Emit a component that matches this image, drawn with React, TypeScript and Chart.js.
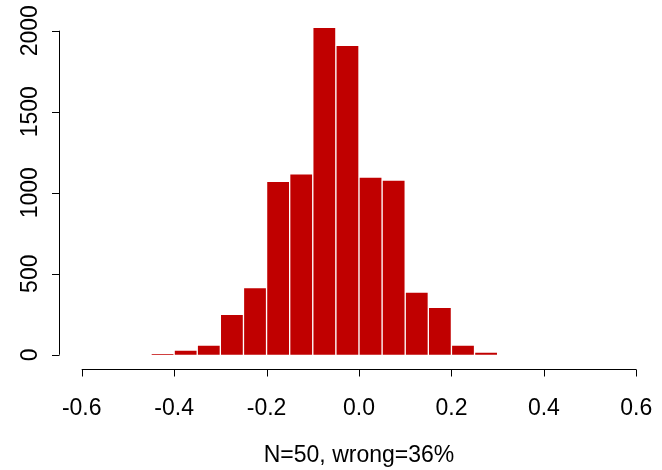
import React, { useEffect, useRef } from "react";
import { Chart, registerables } from "chart.js";

Chart.register(...registerables);

// Histogram bins (left edges) and counts
const binStarts = [-0.45, -0.4, -0.35, -0.3, -0.25, -0.2, -0.15, -0.1, -0.05, 0.0, 0.05, 0.1, 0.15, 0.2, 0.25];
const binWidth = 0.05;
const counts = [4, 29, 60, 250, 415, 1070, 1117, 2021, 1910, 1096, 1078, 386, 292, 60, 17];

const xTicks = [-0.6, -0.4, -0.2, 0.0, 0.2, 0.4, 0.6];
const xTickLabels = ["-0.6", "-0.4", "-0.2", "0.0", "0.2", "0.4", "0.6"];
const yTicks = [0, 500, 1000, 1500, 2000];
const yTickLabels = ["0", "500", "1000", "1500", "2000"];
const xTitle = "N=50, wrong=36%";

const FONT = '23px "Liberation Sans", Arial, Helvetica, sans-serif';

const rAxesPlugin = {
  id: "rAxes",
  afterDraw(chart: any) {
    const ctx = chart.ctx;
    const xs = chart.scales.x;
    const ys = chart.scales.y;
    const area = chart.chartArea;
    ctx.save();
    ctx.strokeStyle = "#000";
    ctx.fillStyle = "#000";
    ctx.lineWidth = 1;

    // x axis
    const axY = Math.round(area.bottom) + 0.5;
    const x0 = xs.getPixelForValue(xTicks[0]);
    const x1 = xs.getPixelForValue(xTicks[xTicks.length - 1]);
    ctx.beginPath();
    ctx.moveTo(x0, axY);
    ctx.lineTo(x1, axY);
    xTicks.forEach((v) => {
      const px = Math.round(xs.getPixelForValue(v)) + 0.5;
      ctx.moveTo(px, axY);
      ctx.lineTo(px, axY + 7);
    });
    ctx.stroke();

    ctx.font = FONT;
    ctx.textAlign = "center";
    ctx.textBaseline = "alphabetic";
    xTicks.forEach((v, i) => {
      ctx.fillText(xTickLabels[i], xs.getPixelForValue(v), axY + 45.5);
    });
    ctx.fillText(xTitle, (area.left + area.right) / 2, axY + 92.5);

    // y axis
    const axX = Math.round(area.left) + 0.5;
    const y0 = ys.getPixelForValue(yTicks[0]);
    const y1 = ys.getPixelForValue(yTicks[yTicks.length - 1]);
    ctx.beginPath();
    ctx.moveTo(axX, y0);
    ctx.lineTo(axX, y1);
    yTicks.forEach((v) => {
      const py = Math.round(ys.getPixelForValue(v)) + 0.5;
      ctx.moveTo(axX, py);
      ctx.lineTo(axX - 7.5, py);
    });
    ctx.stroke();

    yTicks.forEach((v, i) => {
      ctx.save();
      ctx.translate(axX - 22.5, ys.getPixelForValue(v));
      ctx.rotate(-Math.PI / 2);
      ctx.fillText(yTickLabels[i], 0, 0);
      ctx.restore();
    });
    ctx.restore();
  },
};

export default function App() {
  const ref = useRef<HTMLCanvasElement | null>(null);
  useEffect(() => {
    if (!ref.current) return;
    const chart = new Chart(ref.current, {
      type: "bar",
      data: {
        datasets: [
          {
            data: binStarts.map((s, i) => ({ x: s + binWidth / 2, y: counts[i] })),
            backgroundColor: "#C00000",
            borderColor: "#FFFFFF",
            borderWidth: 1,
            borderSkipped: "start",
            barPercentage: 1,
            categoryPercentage: 1,
          },
        ],
      },
      options: {
        responsive: false,
        animation: false,
        devicePixelRatio: 1,
        layout: { padding: { left: 59, right: 3, top: 14, bottom: 101 } },
        plugins: { legend: { display: false }, tooltip: { enabled: false }, title: { display: false } },
        scales: {
          x: {
            type: "linear",
            display: false,
            min: -0.6491,
            max: 0.6491,
            offset: false,
            afterBuildTicks: (s: any) => {
              s.ticks = xTicks.map((v) => ({ value: v }));
            },
          },
          y: {
            type: "linear",
            display: false,
            min: -88,
            max: 2103,
            afterBuildTicks: (s: any) => {
              s.ticks = yTicks.map((v) => ({ value: v }));
            },
          },
        },
      },
      plugins: [rAxesPlugin],
    });
    return () => chart.destroy();
  }, []);
  return (
    <div style={{ position: "absolute", left: 0, top: 0, width: 662, height: 470, background: "#fff" }}>
      <canvas ref={ref} width={662} height={470} style={{ display: "block" }} />
    </div>
  );
}
